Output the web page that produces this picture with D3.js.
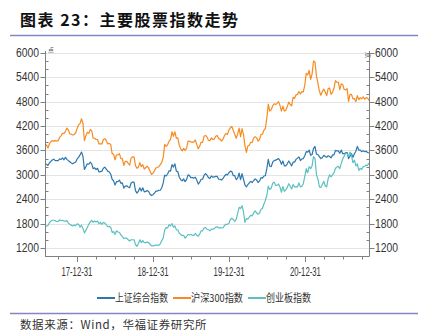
<!DOCTYPE html>
<html><head><meta charset="utf-8">
<script src="https://cdn.jsdelivr.net/npm/d3@7"></script>
<style>body{margin:0;background:#fff} svg{display:block}</style></head>
<body>
<svg id="c" width="421" height="334"></svg>
<script>
// ---- data (weekly, starting Monday 2017-07-31) ----
const startDate = "2017-07-31";
const seriesNames = ["上证综合指数", "沪深300指数", "创业板指数"];
const seriesColors = ["#2c77ad", "#f78b1f", "#5cc0c1"];
const yTicks = [1200, 1800, 2400, 3000, 3600, 4200, 4800, 5400, 6000];
const xTickLabels = ["17-12-31", "18-12-31", "19-12-31", "20-12-31"];
const xTickDates = ["2017-12-31", "2018-12-31", "2019-12-31", "2020-12-31"];

const shComp = [
  3270, 3260,3230,3290,3330, 3365,3385,3350,3350, 3350,3390,3380,3415,3370, 3430,3380,3350,3320, 3290,3270,3300,3310,
  3390,3430,3490,3560,3460, 3130,3200,3270,3260, 3310,3270,3150,3170, 3130,3160,3070,3080,3090, 3160,3190,3140,3090,
  3070,3020,2890,2850, 2750,2830,2830,2870,2790, 2800,2670,2720,2730, 2700,2680,2800,2820, 2820,2610,2550,2600,2680,
  2600,2680,2580,2590, 2610,2590,2520,2490,2510,
  2550,2600,2600,2620, 2620,2680,2800,2990, 2970,3020,3100,3090, 3250,3190,3270,3090,3080, 2940,2880,2850,2900,
  2830,2880,3000,2980, 2930,2930,2920,2940,2870, 2770,2820,2890,2890, 2990,3030,2990,2930,2910, 2970,2940,2950,2960,
  2960,2890,2890,2870, 2910,2970,3010,3000,3050,
  3090,3080,2980,2980, 2880,2920,3040,2880, 3030,2890,2750,2700,2760, 2800,2840,2810,2860, 2900,2870,2810,2850,
  2930,2920,2970,2980,3150, 3380,3210,3200,3310, 3350,3360,3380,3400,3350, 3260,3340,3220,3220, 3270,3340,3280,3220,
  3310,3310,3380,3410,3440, 3350,3390,3400,3470,
  3570,3560,3610,3480, 3500,3650,3700,3510, 3500,3450,3400,3420,3480, 3450,3430,3470,3450, 3420,3490,3490,3600,3590,
  3590,3530,3610,3520, 3520,3540,3550,3400, 3460,3520,3430,3520,3580, 3700,3610,3610,3570, 3590,3570,3580,3550, 3540
];
const csi300 = [
  3720, 3740,3660,3760,3820, 3840,3830,3840,3830, 3840,3920,3960,4020,4020, 4070,4150,4100,4010, 4000,3980,3990,4030,
  4140,4230,4260,4380,4270, 3840,3960,4050,4020, 4120,4080,3900,3900, 3870,3870,3760,3760,3760, 3870,3890,3840,3760,
  3770,3750,3520,3510, 3370,3490,3490,3520,3400, 3400,3230,3330,3330, 3280,3240,3410,3440, 3440,3230,3160,3190,3300,
  3200,3250,3140,3180, 3210,3170,3090,3010,3040,
  3100,3170,3180,3200, 3250,3310,3430,3750, 3700,3740,3830,3870, 4060,3950,4060,3900,3910, 3730,3640,3590,3650,
  3600,3650,3830,3830, 3810,3800,3810,3860,3750, 3640,3710,3800,3800, 3950,3970,3930,3850,3840, 3910,3870,3880,3950,
  3970,3890,3880,3830, 3880,3970,4020,3990,4100,
  4160,4190,4090,4000, 3900,4000,4150,3940, 4140,3990,3720,3550,3710, 3730,3800,3800,3910, 3940,3910,3830,3870,
  3990,4000,4100,4140,4400, 4740,4570,4600,4700, 4750,4730,4760,4800,4710, 4570,4690,4570,4590, 4680,4790,4730,4700,
  4910,4880,4970,4980,5050, 4990,5050,5040,5210,
  5500,5460,5570,5350, 5480,5800,5780,5430, 5260,5060,4960,5050,5110, 5040,4950,5120,5140, 4980,5030,5130,5320,5280,
  5280,5100,5240,5220, 5100,5090,5120,4810, 4980,4980,4870,4880,4800, 4950,4850,4900,4870, 4920,4860,4900,4890, 4830
];
const chinext = [
  1720, 1740,1750,1820,1860, 1880,1880,1870,1850, 1850,1890,1870,1880,1860, 1860,1870,1810,1780, 1760,1740,1760,1750,
  1790,1780,1710,1760,1680, 1570,1630,1700,1780, 1840,1880,1830,1860, 1840,1860,1790,1830,1780, 1830,1810,1770,1720,
  1730,1710,1580,1600, 1530,1620,1590,1580,1520, 1480,1430,1440,1440, 1400,1370,1400,1400, 1400,1280,1240,1310,1400,
  1330,1380,1330,1330, 1340,1330,1290,1250,1250,
  1260,1270,1270,1260, 1300,1380,1440,1640, 1700,1690,1770,1740, 1800,1710,1740,1650,1640, 1560,1530,1500,1510,
  1440,1480,1530,1520, 1530,1510,1510,1560,1510, 1490,1540,1620,1620, 1690,1700,1660,1650,1620, 1660,1660,1680,1710,
  1720,1690,1700,1690, 1700,1750,1780,1780,1800,
  1900,1930,1900,1850, 1900,2050,2200,2170, 2240,2090,1830,1920,1910, 1960,2000,1990,2060, 2110,2060,2030,2060,
  2150,2170,2280,2370,2490, 2720,2640,2670,2790, 2820,2740,2740,2770,2700, 2570,2710,2590,2630, 2690,2780,2720,2650,
  2760,2700,2710,2700,2800, 2700,2720,2780,2960,
  3150,3050,3200,3150, 3220,3450,3400,3000, 2900,2700,2690,2760,2840, 2730,2700,2900,3000, 2950,3000,3050,3160,3190,
  3210,3150,3280,3390, 3460,3530,3520,3460, 3560,3470,3300,3360,3220, 3270,3110,3160,3130, 3200,3210,3240,3230, 3290
];
const seriesValues = [shComp, csi300, chinext];

// ---- layout ----
const svg = d3.select("#c");
const L = 45, R = 369, T = 53, B = 256;
const parse = d3.utcParse("%Y-%m-%d");
const d0 = parse(startDate);
const dates = shComp.map((_, i) => d3.utcDay.offset(d0, 7 * i));

const x = d3.scaleUtc().domain([dates[0], dates[dates.length - 1]]).range([L, R]);
const y = d3.scaleLinear().domain([1000, 6000]).range([B, T]);

const numFont = "'Liberation Sans Narrow', 'Liberation Sans', Arial, sans-serif";
const cjk = "'Noto Sans CJK SC', sans-serif";

// title
svg.append("text").attr("x", 20).attr("y", 26)
  .attr("font-family", cjk).attr("font-weight", 700).attr("font-size", 16)
  .attr("letter-spacing", 1.5)
  .attr("fill", "#111").text("图表 23：主要股票指数走势");
svg.append("line").attr("x1", 10).attr("x2", 418).attr("y1", 35.5).attr("y2", 35.5)
  .attr("stroke", "#8585c2").attr("stroke-width", 1.5);

// gridlines
svg.append("g").selectAll("line").data(yTicks).join("line")
  .attr("x1", L).attr("x2", R)
  .attr("y1", d => Math.round(y(d)) + 0.5).attr("y2", d => Math.round(y(d)) + 0.5)
  .attr("stroke", "#e4e4e4").attr("stroke-width", 1);

// lines
const line = d3.line().x((d, i) => x(dates[i])).y(d => y(d));
seriesValues.forEach((vals, k) => {
  svg.append("path").datum(vals).attr("d", line)
    .attr("fill", "none").attr("stroke", seriesColors[k]).attr("stroke-width", 1.2)
    .attr("stroke-linejoin", "round");
});

// y axes
const minorVals = d3.range(1000, 6001, 200).filter(v => !yTicks.includes(v));
function yAxis(side) {
  const g = svg.append("g");
  const ax = side === "left" ? L : R;
  const dir = side === "left" ? -1 : 1;
  g.append("line").attr("x1", ax + 0.5).attr("x2", ax + 0.5).attr("y1", T - 2).attr("y2", B)
    .attr("stroke", "#808080");
  g.selectAll(".maj").data(yTicks).join("line")
    .attr("x1", ax + 0.5).attr("x2", ax + 0.5 + dir * 5)
    .attr("y1", d => Math.round(y(d)) + 0.5).attr("y2", d => Math.round(y(d)) + 0.5)
    .attr("stroke", "#808080");
  g.selectAll(".min").data(minorVals).join("line")
    .attr("x1", ax + 0.5).attr("x2", ax + 0.5 - dir * 3)
    .attr("y1", d => Math.round(y(d)) + 0.5).attr("y2", d => Math.round(y(d)) + 0.5)
    .attr("stroke", "#808080");
  g.selectAll("text").data(yTicks).join("text")
    .attr("x", side === "left" ? ax - 6 : ax + 6)
    .attr("y", d => y(d) + 4)
    .attr("text-anchor", side === "left" ? "end" : "start")
    .attr("font-family", numFont).attr("font-size", 12)
    .attr("textLength", 23).attr("lengthAdjust", "spacingAndGlyphs")
    .attr("fill", "#333").text(d => d);
}
yAxis("left");
yAxis("right");

// unit labels
svg.append("text").attr("x", 48).attr("y", 52).attr("font-family", cjk).attr("font-size", 6)
  .attr("fill", "#555").text("点");
svg.append("text").attr("transform", `translate(${R - 3},${T - 1}) rotate(90)`)
  .attr("font-family", cjk).attr("font-size", 6).attr("fill", "#555").text("点");

// x axis
const xg = svg.append("g");
xg.append("line").attr("x1", L).attr("x2", R + 0.5).attr("y1", B + 0.5).attr("y2", B + 0.5)
  .attr("stroke", "#808080");
const qEnds = d3.utcMonth.range(dates[0], dates[dates.length - 1])
  .filter(d => d.getUTCMonth() % 3 === 0)
  .map(d => d3.utcDay.offset(d, -1))
  .filter(d => x(d) > L + 1 && x(d) < R);
const majorSet = new Set(xTickDates);
const fmt = d3.utcFormat("%Y-%m-%d");
xg.selectAll(".t").data(qEnds).join("line")
  .attr("x1", d => Math.round(x(d)) + 0.5).attr("x2", d => Math.round(x(d)) + 0.5)
  .attr("y1", B + 0.5).attr("y2", d => B + (majorSet.has(fmt(d)) ? 6 : 3.5))
  .attr("stroke", "#808080");
xg.selectAll("text").data(xTickDates).join("text")
  .attr("x", (d) => x(parse(d))).attr("y", 276)
  .attr("text-anchor", "middle")
  .attr("font-family", numFont).attr("font-size", 12)
  .attr("textLength", 31).attr("lengthAdjust", "spacingAndGlyphs")
  .attr("fill", "#333").text((d, i) => xTickLabels[i]);

// legend
const legendX = [97, 173, 248];
const legendW = [53, 52, 45];
const lg = svg.append("g");
seriesNames.forEach((n, i) => {
  lg.append("line").attr("x1", legendX[i]).attr("x2", legendX[i] + 18)
    .attr("y1", 298).attr("y2", 298).attr("stroke", seriesColors[i]).attr("stroke-width", 2);
  lg.append("text").attr("x", legendX[i] + 18).attr("y", 302)
    .attr("font-family", cjk).attr("font-size", 11)
    .attr("textLength", legendW[i]).attr("lengthAdjust", "spacingAndGlyphs")
    .attr("fill", "#333").text(n);
});

// bottom rule and source
svg.append("line").attr("x1", 10).attr("x2", 418).attr("y1", 313.5).attr("y2", 313.5)
  .attr("stroke", "#8585c2").attr("stroke-width", 1.5);
svg.append("text").attr("x", 20).attr("y", 329)
  .attr("font-family", cjk).attr("font-size", 11.5).attr("fill", "#333")
  .attr("letter-spacing", 0.6)
  .text("数据来源：Wind，华福证券研究所");
</script>
</body></html>
